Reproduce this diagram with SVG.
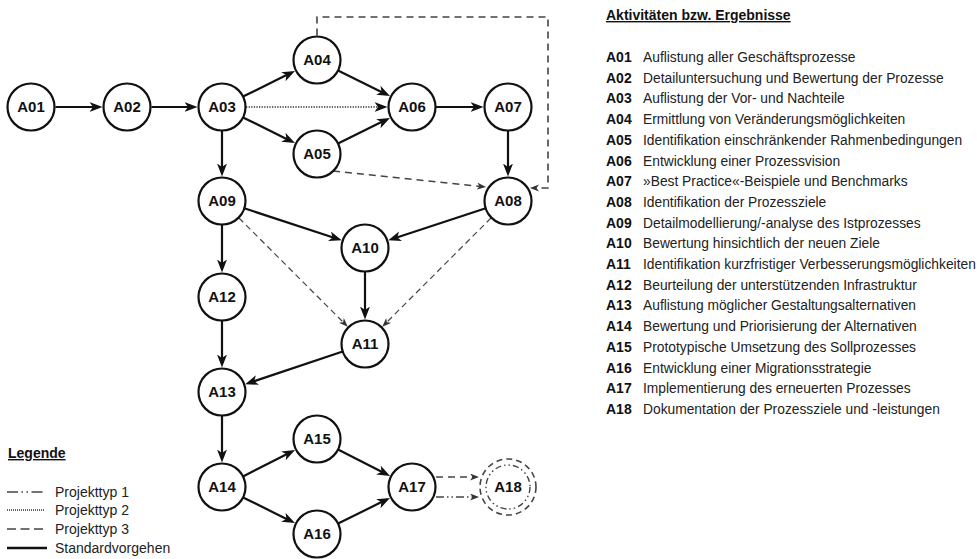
<svg xmlns="http://www.w3.org/2000/svg" width="977" height="559" viewBox="0 0 977 559">
<style>
text{font-family:"Liberation Sans",Arial,sans-serif;fill:#111}
.node circle{fill:#fff;stroke:#111;stroke-width:2.2}
.node text{font-size:15px;font-weight:bold;text-anchor:middle}
.s{stroke:#111;stroke-width:2.2;fill:none}
.p3{stroke:#444;stroke-width:1.6;fill:none;stroke-dasharray:7,5}
.p3t{stroke:#444;stroke-width:1.2;fill:none;stroke-dasharray:6,4}
.p2{stroke:#333;stroke-width:1.6;fill:none;stroke-dasharray:1.3,1.3}
.p1{stroke:#444;stroke-width:1.6;fill:none;stroke-dasharray:8,3,1.5,3,1.5,3}
.code{font-weight:bold;font-size:14px}
.desc{font-size:13.8px;fill:#222}
.hd{font-weight:bold;font-size:14px;text-decoration:underline}
.lg{font-size:14px;fill:#222}
</style>
<defs>
<marker id="ah" markerUnits="userSpaceOnUse" markerWidth="14" markerHeight="11" refX="8" refY="5" orient="auto"><path d="M0,0 L13,5 L0,10 L3.5,5 z" fill="#111"/></marker>
<marker id="ahd" markerUnits="userSpaceOnUse" markerWidth="10" markerHeight="8" refX="6" refY="3.5" orient="auto"><path d="M0,0 L9,3.5 L0,7 L2.5,3.5 z" fill="#333"/></marker>
</defs>
<g id="connectors">
<line class="s" x1="55.5" y1="107" x2="97.5" y2="107" marker-end="url(#ah)"/>
<line class="s" x1="151.5" y1="107" x2="192.5" y2="107" marker-end="url(#ah)"/>
<line class="s" x1="243" y1="96.6" x2="290.5" y2="73.1" marker-end="url(#ah)"/>
<line class="s" x1="243" y1="117.4" x2="290.5" y2="140.9" marker-end="url(#ah)"/>
<line class="p2" x1="246" y1="107" x2="382.5" y2="107" marker-end="url(#ah)"/>
<line class="s" x1="338" y1="70.4" x2="385.5" y2="93.9" marker-end="url(#ah)"/>
<line class="s" x1="338" y1="143.6" x2="385.5" y2="120.1" marker-end="url(#ah)"/>
<line class="s" x1="435.5" y1="107" x2="478.5" y2="107" marker-end="url(#ah)"/>
<line class="s" x1="508" y1="130.5" x2="508" y2="171.5" marker-end="url(#ah)"/>
<line class="s" x1="222" y1="130.5" x2="222" y2="171.5" marker-end="url(#ah)"/>
<path class="p3" d="M317,35.5 V17 H548 V188 H533" marker-end="url(#ahd)"/>
<line class="p3" x1="333" y1="171" x2="483" y2="186.7" marker-end="url(#ahd)"/>
<line class="s" x1="244.3" y1="208.3" x2="337" y2="238.8" marker-end="url(#ah)"/>
<line class="s" x1="485.7" y1="208.3" x2="393" y2="238.8" marker-end="url(#ah)"/>
<line class="s" x1="365" y1="271.5" x2="365" y2="314.5" marker-end="url(#ah)"/>
<line class="p3t" x1="239" y1="218" x2="345.6" y2="324.6" marker-end="url(#ahd)"/>
<line class="p3t" x1="491" y1="218" x2="384.4" y2="324.6" marker-end="url(#ahd)"/>
<line class="s" x1="222" y1="224.5" x2="222" y2="267.5" marker-end="url(#ah)"/>
<line class="s" x1="222" y1="320.5" x2="222" y2="362.5" marker-end="url(#ah)"/>
<line class="s" x1="342.7" y1="351.5" x2="249.9" y2="382.6" marker-end="url(#ah)"/>
<line class="s" x1="222" y1="415.5" x2="222" y2="457.5" marker-end="url(#ah)"/>
<line class="s" x1="243" y1="476.4" x2="290.6" y2="452.3" marker-end="url(#ah)"/>
<line class="s" x1="243.1" y1="497.4" x2="290.5" y2="520.9" marker-end="url(#ah)"/>
<line class="s" x1="338" y1="449.6" x2="385.6" y2="473.7" marker-end="url(#ah)"/>
<line class="s" x1="338.1" y1="523.6" x2="385.5" y2="500.1" marker-end="url(#ah)"/>
<line class="p3" x1="436" y1="477" x2="476" y2="477" marker-end="url(#ahd)"/>
<line class="p1" x1="436" y1="497" x2="476" y2="497" marker-end="url(#ahd)"/>
</g>
<g id="A01" class="node"><circle cx="31" cy="107" r="23.5"/><text x="31" y="112">A01</text></g>
<g id="A02" class="node"><circle cx="127" cy="107" r="23.5"/><text x="127" y="112">A02</text></g>
<g id="A03" class="node"><circle cx="222" cy="107" r="23.5"/><text x="222" y="112">A03</text></g>
<g id="A04" class="node"><circle cx="317" cy="60" r="23.5"/><text x="317" y="65">A04</text></g>
<g id="A05" class="node"><circle cx="317" cy="154" r="23.5"/><text x="317" y="159">A05</text></g>
<g id="A06" class="node"><circle cx="412" cy="107" r="23.5"/><text x="412" y="112">A06</text></g>
<g id="A07" class="node"><circle cx="508" cy="107" r="23.5"/><text x="508" y="112">A07</text></g>
<g id="A08" class="node"><circle cx="508" cy="201" r="23.5"/><text x="508" y="206">A08</text></g>
<g id="A09" class="node"><circle cx="222" cy="201" r="23.5"/><text x="222" y="206">A09</text></g>
<g id="A10" class="node"><circle cx="365" cy="248" r="23.5"/><text x="365" y="253">A10</text></g>
<g id="A11" class="node"><circle cx="365" cy="344" r="23.5"/><text x="365" y="349">A11</text></g>
<g id="A12" class="node"><circle cx="222" cy="297" r="23.5"/><text x="222" y="302">A12</text></g>
<g id="A13" class="node"><circle cx="222" cy="392" r="23.5"/><text x="222" y="397">A13</text></g>
<g id="A14" class="node"><circle cx="222" cy="487" r="23.5"/><text x="222" y="492">A14</text></g>
<g id="A15" class="node"><circle cx="317" cy="439" r="23.5"/><text x="317" y="444">A15</text></g>
<g id="A16" class="node"><circle cx="317" cy="534" r="23.5"/><text x="317" y="539">A16</text></g>
<g id="A17" class="node"><circle cx="412" cy="487" r="23.5"/><text x="412" y="492">A17</text></g>
<g id="A18" class="node">
<circle cx="508" cy="487" r="28" style="stroke:#444;stroke-width:1.6;stroke-dasharray:6,4"/>
<circle cx="508" cy="487" r="22" style="stroke:#444;stroke-width:1.4;stroke-dasharray:6,3,1.5,3,1.5,3;fill:none"/>
<text x="508" y="492">A18</text>
</g>
<g id="list">
<text class="hd" x="606" y="20">Aktivitäten bzw. Ergebnisse</text>
<text class="code" x="606" y="62">A01</text><text class="desc" x="643" y="62">Auflistung aller Geschäftsprozesse</text>
<text class="code" x="606" y="82.7">A02</text><text class="desc" x="643" y="82.7">Detailuntersuchung und Bewertung der Prozesse</text>
<text class="code" x="606" y="103.4">A03</text><text class="desc" x="643" y="103.4">Auflistung der Vor- und Nachteile</text>
<text class="code" x="606" y="124.1">A04</text><text class="desc" x="643" y="124.1">Ermittlung von Veränderungsmöglichkeiten</text>
<text class="code" x="606" y="144.8">A05</text><text class="desc" x="643" y="144.8">Identifikation einschränkender Rahmenbedingungen</text>
<text class="code" x="606" y="165.5">A06</text><text class="desc" x="643" y="165.5">Entwicklung einer Prozessvision</text>
<text class="code" x="606" y="186.2">A07</text><text class="desc" x="643" y="186.2">»Best Practice«-Beispiele und Benchmarks</text>
<text class="code" x="606" y="206.9">A08</text><text class="desc" x="643" y="206.9">Identifikation der Prozessziele</text>
<text class="code" x="606" y="227.6">A09</text><text class="desc" x="643" y="227.6">Detailmodellierung/-analyse des Istprozesses</text>
<text class="code" x="606" y="248.3">A10</text><text class="desc" x="643" y="248.3">Bewertung hinsichtlich der neuen Ziele</text>
<text class="code" x="606" y="269">A11</text><text class="desc" x="643" y="269">Identifikation kurzfristiger Verbesserungsmöglichkeiten</text>
<text class="code" x="606" y="289.7">A12</text><text class="desc" x="643" y="289.7">Beurteilung der unterstützenden Infrastruktur</text>
<text class="code" x="606" y="310.4">A13</text><text class="desc" x="643" y="310.4">Auflistung möglicher Gestaltungsalternativen</text>
<text class="code" x="606" y="331.1">A14</text><text class="desc" x="643" y="331.1">Bewertung und Priorisierung der Alternativen</text>
<text class="code" x="606" y="351.8">A15</text><text class="desc" x="643" y="351.8">Prototypische Umsetzung des Sollprozesses</text>
<text class="code" x="606" y="372.5">A16</text><text class="desc" x="643" y="372.5">Entwicklung einer Migrationsstrategie</text>
<text class="code" x="606" y="393.2">A17</text><text class="desc" x="643" y="393.2">Implementierung des erneuerten Prozesses</text>
<text class="code" x="606" y="413.9">A18</text><text class="desc" x="643" y="413.9">Dokumentation der Prozessziele und -leistungen</text>
</g>
<g id="legend">
<text class="hd" x="8" y="458">Legende</text>
<line class="p1" x1="7" y1="492" x2="44" y2="492" style="stroke-dasharray:11,3.5,1.5,3.5,1.5,3.5"/>
<text class="lg" x="55" y="497">Projekttyp 1</text>
<line class="p2" x1="7" y1="510" x2="45" y2="510" style="stroke-dasharray:1,1;stroke-width:1.4"/>
<text class="lg" x="55" y="515">Projekttyp 2</text>
<line class="p3" x1="7" y1="529" x2="44" y2="529" style="stroke-dasharray:9,4.5"/>
<text class="lg" x="55" y="534">Projekttyp 3</text>
<line class="s" x1="7" y1="548" x2="47" y2="548" style="stroke-width:2.6"/>
<text class="lg" x="55" y="553">Standardvorgehen</text>
</g>
</svg>
